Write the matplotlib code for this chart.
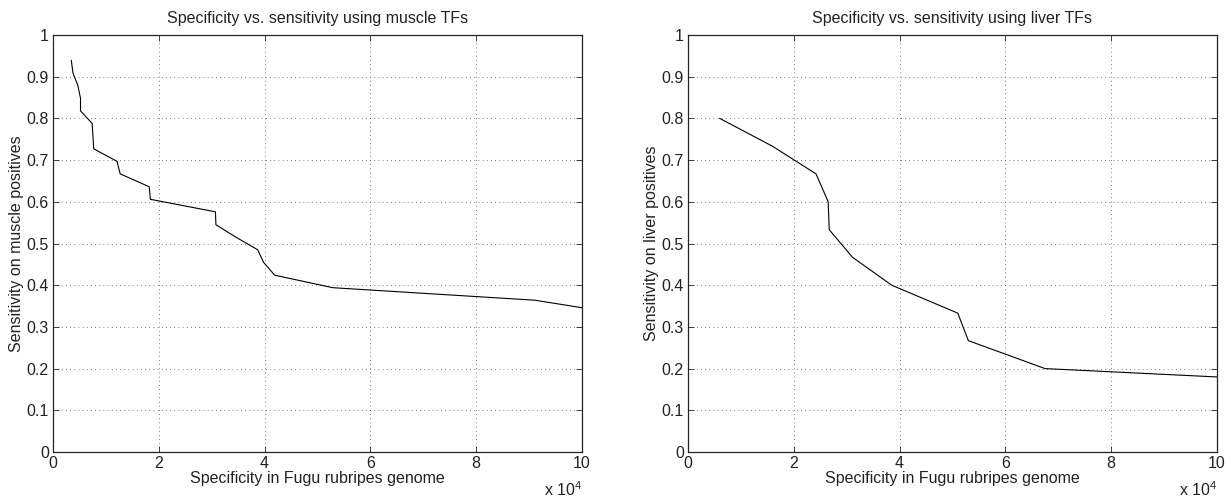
import matplotlib
matplotlib.use("Agg")
import matplotlib.pyplot as plt
import numpy as np

plt.rcParams['font.family'] = ['Liberation Sans', 'DejaVu Sans']
plt.rcParams['mathtext.fontset'] = 'custom'
plt.rcParams['mathtext.rm'] = 'Liberation Sans'

# Muscle TFs curve (specificity x, sensitivity y)
muscle_x = [3460, 3770, 4700, 5200, 5200, 7400, 7700, 12100, 12700, 18200, 18400,
            30700, 30800, 34600, 38700, 39800, 41900, 52900, 91100, 100000]
muscle_y = [0.939, 0.909, 0.879, 0.848, 0.818, 0.788, 0.727, 0.697, 0.667, 0.636, 0.606,
            0.576, 0.545, 0.515, 0.485, 0.455, 0.424, 0.394, 0.364, 0.346]

# Liver TFs curve
liver_x = [6000, 16000, 24200, 26500, 26700, 31100, 38500, 51000, 53000, 67500, 100000]
liver_y = [0.800, 0.733, 0.667, 0.600, 0.533, 0.467, 0.400, 0.333, 0.267, 0.200, 0.180]

titles = ["Specificity vs. sensitivity using muscle TFs",
          "Specificity vs. sensitivity using liver TFs"]
ylabels = ["Sensitivity on muscle positives", "Sensitivity on liver positives"]
xlabel = "Specificity in Fugu rubripes genome"
xticks = [0, 20000, 40000, 60000, 80000, 100000]
xticklabels = ["0", "2", "4", "6", "8", "10"]
yticks = [0, 0.1, 0.2, 0.3, 0.4, 0.5, 0.6, 0.7, 0.8, 0.9, 1]
yticklabels = ["0", "0.1", "0.2", "0.3", "0.4", "0.5", "0.6", "0.7", "0.8", "0.9", "1"]

W, H = 1231, 497
fig = plt.figure(figsize=(W / 100, H / 100), dpi=100)

positions = [(53, 35, 582, 452), (688, 35, 1217, 452)]
series = [(muscle_x, muscle_y), (liver_x, liver_y)]

for (x0, y0, x1, y1), (xs, ys), title, ylab in zip(positions, series, titles, ylabels):
    ax = fig.add_axes([x0 / W, (H - y1) / H, (x1 - x0) / W, (y1 - y0) / H])
    ax.plot(xs, ys, color='black', lw=0.8)
    ax.set_xlim(0, 100000)
    ax.set_ylim(0, 1)
    ax.set_xticks(xticks)
    ax.set_xticklabels(xticklabels)
    ax.set_yticks(yticks)
    ax.set_yticklabels(yticklabels)
    ax.grid(True, linestyle=(0, (1, 4)), color='#555555', lw=0.6)
    ax.tick_params(direction='in', length=4, width=0.6, top=True, right=True,
                   labelsize=11.5, pad=3, colors='#222222')
    for s in ax.spines.values():
        s.set_linewidth(0.9)
        s.set_color('#222222')
    ax.set_title(title, fontsize=11.5, pad=9, color='#222222')
    ax.set_xlabel(xlabel, fontsize=11.5, labelpad=0, color='#222222')
    ax.set_ylabel(ylab, fontsize=11.5, labelpad=2, color='#222222')
    ax.text(1.0, -0.091, r'x 10$^4$', transform=ax.transAxes, ha='right', va='center',
            fontsize=11.5, color='#222222')

fig.savefig("out.png", dpi=100)
